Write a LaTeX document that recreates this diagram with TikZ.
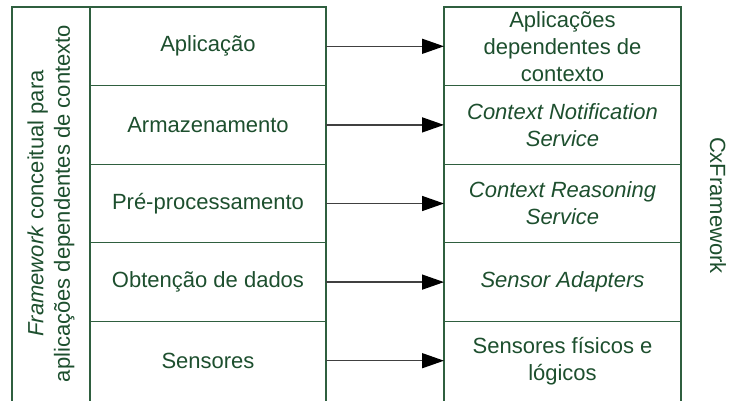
\documentclass[tikz,border=0pt]{standalone}
\usepackage{fontspec}
\setmainfont{Liberation Sans}
\usepackage{tikz}
\usetikzlibrary{arrows.meta,positioning}
\definecolor{textgreen}{HTML}{1D4F2E}
\definecolor{linegreen}{HTML}{2F5F3F}
\tikzset{
    %Define standard arrow tip
    >={Triangle[length=22pt,width=15pt,black]},
    %Define style for layers
    layer/.style={
           rectangle,
           inner sep=0pt, outer sep=0pt,
           minimum width=236pt,
           minimum height=78.6pt,
           font=\fontsize{22}{27}\selectfont,
           text=textgreen,
           align=center},
    % Define frame lines
    frame/.style={
           draw=linegreen,
           line width=1.3pt},
    % Define arrow style
    pil/.style={
           ->,
           draw=black!75,
           line width=1.5pt}
}
\begin{document}
\begin{tikzpicture}[x=1pt,y=1pt,node distance=0pt]
\clip (0,0) rectangle (746,400);
% left column
\node[layer](A1) at (208,353.7){Aplicação};
\node[layer, below=of A1](A2){Armazenamento};
\node[layer, below=of A2](A3){Pré-processamento};
\node[layer, below=of A3](A4){Obtenção de dados};
\node[layer, below=of A4](A5){Sensores};
% right column
\node[layer, minimum width=237pt, right=118pt of A1](B1){Aplicações\\dependentes de\\contexto};
\node[layer, minimum width=237pt, below=of B1](B2){\itshape Context Notification\\\itshape Service};
\node[layer, minimum width=237pt, below=of B2](B3){\itshape Context Reasoning\\\itshape Service};
\node[layer, minimum width=237pt, below=of B3](B4){\itshape Sensor Adapters};
\node[layer, minimum width=237pt, below=of B4](B5){Sensores físicos e\\lógicos};
% side labels
\node[layer, minimum width=0pt, minimum height=0pt, font=\fontsize{22}{26.5}\selectfont, rotate=90]
    (fw) at (51,196.5){\textit{Framework} conceitual para\\aplicações dependentes de contexto};
\node[layer, minimum width=0pt, minimum height=0pt, rotate=-90]
    (cx) at ([xshift=37pt,yshift=-2pt]B3.east){CxFramework};
% frames
\draw[frame] ([xshift=-78pt,yshift=-10pt]A5.south west) |- (A1.north east) -- ([yshift=-10pt]A5.south east);
\draw[frame] (A1.north west) -- ([yshift=-10pt]A5.south west);
\draw[frame] ([yshift=-10pt]B5.south west) |- (B1.north east) -- ([yshift=-10pt]B5.south east);
\foreach \i in {2,...,5}{
    \draw[frame] (A\i.north west) -- (A\i.north east);
    \draw[frame] (B\i.north west) -- (B\i.north east);
}
% arrows
\foreach \i in {1,...,5}
    \path[pil] (A\i) edge (B\i);
\end{tikzpicture}
\end{document}
